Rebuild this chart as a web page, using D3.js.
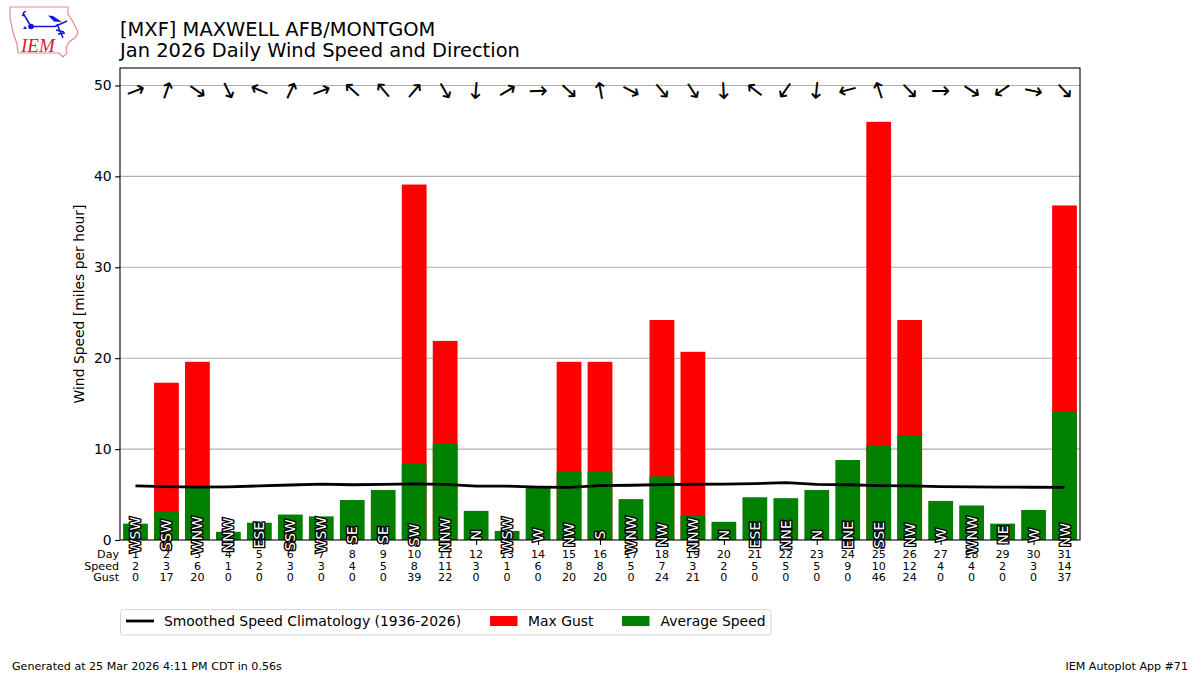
<!DOCTYPE html>
<html>
<head>
<meta charset="utf-8">
<script src="https://cdn.jsdelivr.net/npm/d3@7"></script>
<style>
html, body { margin: 0; padding: 0; background: #fff; }
text { font-family: "DejaVu Sans", sans-serif; }
</style>
</head>
<body>
<script>
// daily values
var days = d3.range(1, 32);
var avg_speed = [1.8, 3.1, 5.9, 0.9, 1.9, 2.8, 2.6, 4.4, 5.5, 8.4, 10.6, 3.2, 1.0, 5.8, 7.5, 7.5,
  4.5, 7.0, 2.7, 2.0, 4.7, 4.6, 5.5, 8.8, 10.4, 11.5, 4.3, 3.8, 1.8, 3.3, 14.1];
var max_gust = [0, 17.3, 19.6, 0, 0, 0, 0, 0, 0, 39.1, 21.9, 0, 0, 0, 19.6, 19.6,
  0, 24.2, 20.7, 0, 0, 0, 0, 0, 46.0, 24.2, 0, 0, 0, 0, 36.8];
var climo_speed = [5.95, 5.87, 5.82, 5.85, 5.95, 6.05, 6.15, 6.08, 6.12, 6.17, 6.12, 5.93, 5.92, 5.82, 5.78,
  5.98, 6.02, 6.1, 6.13, 6.15, 6.2, 6.32, 6.12, 6.08, 5.98, 5.95, 5.87, 5.84, 5.82, 5.8, 5.78];
var dir_deg = [249, 199, 305, 334, 113, 205, 250, 132, 140, 221, 330, 5, 239, 268, 312, 170,
  297, 320, 327, 357, 128, 35, 6, 75, 162, 316, 270, 303, 55, 282, 317];
var dir_txt = ["WSW", "SSW", "WNW", "NNW", "ESE", "SSW", "WSW", "SE", "SE", "SW", "NNW", "N", "WSW", "W", "NW", "S",
  "WNW", "NW", "NNW", "N", "ESE", "NNE", "N", "ENE", "SSE", "NW", "W", "WNW", "NE", "W", "NW"];
var speed_lbl = [2, 3, 6, 1, 2, 3, 3, 4, 5, 8, 11, 3, 1, 6, 8, 8, 5, 7, 3, 2, 5, 5, 5, 9, 10, 12, 4, 4, 2, 3, 14];
var gust_lbl = [0, 17, 20, 0, 0, 0, 0, 0, 0, 39, 22, 0, 0, 0, 20, 20, 0, 24, 21, 0, 0, 0, 0, 0, 46, 24, 0, 0, 0, 0, 37];
var y_ticks = [0, 10, 20, 30, 40, 50];

var svg = d3.select("body").append("svg")
  .attr("width", 1200)
  .attr("height", 675)
  .style("display", "block");

var left = 120, right = 1080, top_y = 68, bottom = 540;

var x = d3.scaleLinear().domain([0.5, 31.5]).range([left, right]);
var y = d3.scaleLinear().domain([0, 51.92]).range([bottom, top_y]);
var bar_w = (x(2) - x(1)) * 0.8;

// logo
var logo = svg.append("g");
logo.append("path")
  .attr("d", "M10,7 L68,7 L68,14 L72,20 L78,32 L76,37 L69,42 L66,48 L67,53 L63,57 L59,53 L18,53 L17,44 L13,32 L10,18 Z")
  .attr("fill", "none").attr("stroke", "#e58a94").attr("stroke-width", 1.2);
logo.append("path")
  .attr("d", "M31,26.5 L55,26.5 L67,21 M31,26.5 L23,13 M23,13 L26,11 M22,15 L25,16 M57,24 L63,38 M56,30 L64,32 M58,34 L65,33")
  .attr("fill", "none").attr("stroke", "#1414d8").attr("stroke-width", 1.5);
logo.append("circle").attr("cx", 31).attr("cy", 26.5).attr("r", 2.8).attr("fill", "#1414d8");
logo.append("path").attr("d", "M48,15.5 L53,16 L62,22 L54,21.5 Z").attr("fill", "#1414d8");
logo.append("path").attr("d", "M23,29 L25,26 L27,29 Z").attr("fill", "#1414d8");
logo.append("text")
  .attr("x", 21).attr("y", 52)
  .style("font-family", "'Liberation Serif', serif")
  .style("font-style", "italic")
  .style("font-size", "19px")
  .attr("fill", "#d42030")
  .text("IEM");

// titles
svg.append("text").attr("x", 120).attr("y", 36).style("font-size", "19.45px").text("[MXF] MAXWELL AFB/MONTGOM");
svg.append("text").attr("x", 120).attr("y", 57).style("font-size", "19.45px").text("Jan 2026 Daily Wind Speed and Direction");

// y axis + grid
var y_axis = d3.axisLeft(y).tickValues(y_ticks).tickSize(4.9).tickPadding(3.5);
var gy = svg.append("g").attr("transform", "translate(" + left + ",0)").call(y_axis);
gy.select(".domain").remove();
gy.selectAll("text").style("font-size", "13.9px").style("font-family", "'DejaVu Sans'");
gy.selectAll("line").attr("stroke", "#000").attr("stroke-width", 1.1);

svg.append("g").selectAll("line")
  .data(y_ticks.slice(1))
  .enter().append("line")
  .attr("x1", left).attr("x2", right)
  .attr("y1", function(d){ return y(d); })
  .attr("y2", function(d){ return y(d); })
  .attr("stroke", "#b0b0b0").attr("stroke-width", 1.1);

// bars
svg.append("g").selectAll("rect")
  .data(days)
  .enter().append("rect")
  .attr("x", function(d){ return x(d) - bar_w / 2; })
  .attr("width", bar_w)
  .attr("y", function(d,i){ return y(max_gust[i]); })
  .attr("height", function(d,i){ return bottom - y(max_gust[i]); })
  .attr("fill", "#ff0000");

svg.append("g").selectAll("rect")
  .data(days)
  .enter().append("rect")
  .attr("x", function(d){ return x(d) - bar_w / 2; })
  .attr("width", bar_w)
  .attr("y", function(d,i){ return y(avg_speed[i]); })
  .attr("height", function(d,i){ return bottom - y(avg_speed[i]); })
  .attr("fill", "#008000");

// climatology
var climo_line = d3.line()
  .x(function(d){ return x(d); })
  .y(function(d){ return y(climo_speed[d - 1]); });
svg.append("path")
  .datum(days)
  .attr("d", climo_line)
  .attr("fill", "none")
  .attr("stroke", "#000")
  .attr("stroke-width", 2.8);

// x axis ticks, three rows of labels per day
var x_axis = d3.axisBottom(x).tickValues(days).tickSize(4.9).tickFormat("");
var gx = svg.append("g").attr("transform", "translate(0," + bottom + ")").call(x_axis);
gx.select(".domain").remove();
gx.selectAll("line").attr("stroke", "#000").attr("stroke-width", 1.1);

var rows = [
  {name: "Day", y: 558, vals: days},
  {name: "Speed", y: 569.5, vals: speed_lbl},
  {name: "Gust", y: 581, vals: gust_lbl}
];
rows.forEach(function(r){
  svg.append("text").attr("x", 119).attr("y", r.y)
    .attr("text-anchor", "end").style("font-size", "11.1px").text(r.name);
  svg.append("g").selectAll("text")
    .data(r.vals)
    .enter().append("text")
    .attr("x", function(d,i){ return x(days[i]); })
    .attr("y", r.y)
    .attr("text-anchor", "middle")
    .style("font-size", "11.1px")
    .text(function(d){ return d; });
});

// frame
svg.append("rect")
  .attr("x", left).attr("y", top_y)
  .attr("width", right - left).attr("height", bottom - top_y)
  .attr("fill", "none").attr("stroke", "#000").attr("stroke-width", 1.1);

// direction text along the bottom, white with a black halo
svg.append("g").selectAll("text")
  .data(dir_txt)
  .enter().append("text")
  .attr("transform", function(d,i){ return "translate(" + x(days[i]) + "," + y(0.55) + ") rotate(-90)"; })
  .attr("text-anchor", "middle")
  .attr("dy", "0.36em")
  .style("font-size", "13.9px")
  .style("paint-order", "stroke")
  .attr("stroke", "#000")
  .attr("stroke-width", 2.8)
  .attr("fill", "#fff")
  .text(function(d){ return d; });

// wind arrows along the top, dir is where the wind blows from
svg.append("g").selectAll("text")
  .data(dir_deg)
  .enter().append("text")
  .attr("transform", function(d,i){ return "translate(" + x(days[i]) + "," + y(49.45) + ") rotate(" + (d - 270) + ")"; })
  .attr("text-anchor", "middle")
  .attr("dy", "0.33em")
  .style("font-size", "23px")
  .attr("fill", "#000")
  .text("\u2192");

// legend
var lg = svg.append("g");
lg.append("rect")
  .attr("x", 120.5).attr("y", 609.5).attr("width", 650.5).attr("height", 25.5)
  .attr("rx", 3).attr("fill", "#fff").attr("stroke", "#d5d5d5").attr("stroke-width", 1);
lg.append("line").attr("x1", 126).attr("x2", 154).attr("y1", 621).attr("y2", 621)
  .attr("stroke", "#000").attr("stroke-width", 2.8);
lg.append("text").attr("x", 164).attr("y", 626).style("font-size", "13.9px").text("Smoothed Speed Climatology (1936-2026)");
lg.append("rect").attr("x", 490).attr("y", 616).attr("width", 27.5).attr("height", 10).attr("fill", "#ff0000");
lg.append("text").attr("x", 528).attr("y", 626).style("font-size", "13.9px").text("Max Gust");
lg.append("rect").attr("x", 622).attr("y", 616).attr("width", 27.5).attr("height", 10).attr("fill", "#008000");
lg.append("text").attr("x", 660.5).attr("y", 626).style("font-size", "13.9px").text("Average Speed");

// footer
svg.append("text").attr("x", 12).attr("y", 670).style("font-size", "11.1px").text("Generated at 25 Mar 2026 4:11 PM CDT in 0.56s");
svg.append("text").attr("x", 1188).attr("y", 670).attr("text-anchor", "end").style("font-size", "11.1px").text("IEM Autoplot App #71");

// y label
svg.append("text")
  .attr("transform", "translate(84," + ((top_y + bottom) / 2) + ") rotate(-90)")
  .attr("text-anchor", "middle")
  .style("font-size", "13.9px")
  .text("Wind Speed [miles per hour]");
</script>
</body>
</html>
